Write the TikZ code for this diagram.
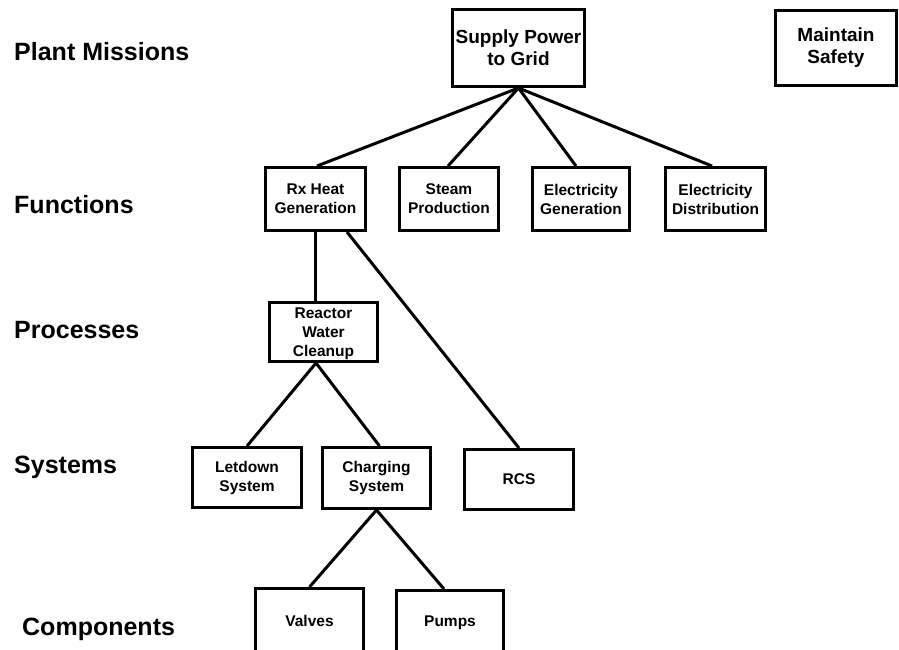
\documentclass[tikz,border=0pt]{standalone}
\usepackage{fontspec}
\setmainfont{Liberation Sans}
\usetikzlibrary{calc}
\newcommand\lvlfont{\fontsize{25}{30}\selectfont\bfseries}
\newcommand\topfont{\fontsize{19}{22}\selectfont\bfseries}
\newcommand\boxfont{\fontsize{15.5}{19}\selectfont\bfseries}
\begin{document}
\begin{tikzpicture}[x=1pt,y=-1pt,
  box/.style={draw, line width=3pt, align=center, inner sep=0pt, font=\boxfont},
  topbox/.style={box, font=\topfont},
  lvl/.style={anchor=base west, inner sep=0pt, font=\lvlfont},
  link/.style={line width=3pt}]
\clip (0,0) rectangle (899,649);

% level labels
\node[lvl] (lmis) at (14,60)  {Plant Missions};
\node[lvl] (lfun) at (14,213) {Functions};
\node[lvl] (lpro) at (14,338) {Processes};
\node[lvl] (lsys) at (14,473) {Systems};
\node[lvl] (lcom) at (22,635) {Components};

% plant missions
\node[topbox, minimum width=132pt, minimum height=77pt] (supply) at (518.5,48) {Supply Power\\to Grid};
\node[topbox, minimum width=121pt, minimum height=75pt] (safety) at (836,48) {Maintain\\Safety};

% functions
\node[box, minimum width=100pt, minimum height=63pt] (rx)    at (315.5,199) {Rx Heat\\Generation};
\node[box, minimum width=99pt,  minimum height=63pt] (steam) at (449,199)   {Steam\\Production};
\node[box, minimum width=97pt,  minimum height=63pt] (egen)  at (581,199)   {Electricity\\Generation};
\node[box, minimum width=100pt, minimum height=63pt] (edist) at (715.5,199) {Electricity\\Distribution};

% processes
\node[box, text depth=0pt, minimum width=108pt, minimum height=59pt] (rwc) at (323.5,332) {Reactor\\Water\\Cleanup};

% systems
\node[box, minimum width=109pt, minimum height=60pt] (letdown)  at (247,477.5)   {Letdown\\System};
\node[box, minimum width=108pt, minimum height=61pt] (charging) at (376.5,478)   {Charging\\System};
\node[box, minimum width=109pt, minimum height=60pt] (rcs)      at (519,479.5)   {RCS};

% components (their lower edges run past the bottom of the page)
\node[box, minimum width=108pt, minimum height=64pt] (valves) at (309.5,620.5) {Valves};
\node[box, minimum width=107pt, minimum height=64pt] (pumps)  at (450,622.5)   {Pumps};

% connectors
\draw[link] (supply.south) -- ($(rx.north)+(1.5,0)$);
\draw[link] (supply.south) -- ($(steam.north)+(-1,0)$);
\draw[link] (supply.south) -- ($(egen.north)+(-5,0)$);
\draw[link] (supply.south) -- ($(edist.north)+(-3.5,0)$);
\draw[link] (rx.south) -- (rx.south |- rwc.north);
\draw[link] ($(rx.south)+(31.5,0)$) -- (rcs.north);
\draw[link] ($(rwc.south)+(-7.5,0)$) -- (letdown.north);
\draw[link] ($(rwc.south)+(-7.5,0)$) -- ($(charging.north)+(3,0)$);
\draw[link] (charging.south) -- (valves.north);
\draw[link] (charging.south) -- ($(pumps.north)+(-6,0)$);
\end{tikzpicture}
\end{document}
